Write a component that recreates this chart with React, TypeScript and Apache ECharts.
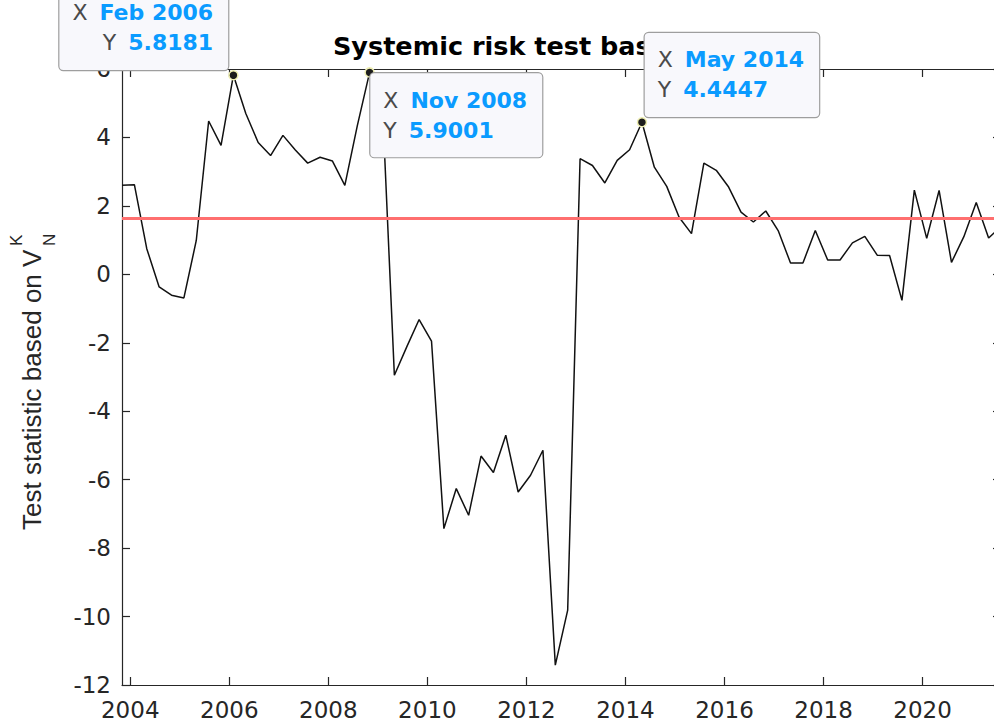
import React, { useEffect, useRef } from "react";
import * as echarts from "echarts";

// Quarterly observation dates (YYYY-MM)
const dates: string[] = [
  "2003-11",
  "2004-02", "2004-05", "2004-08", "2004-11",
  "2005-02", "2005-05", "2005-08", "2005-11",
  "2006-02", "2006-05", "2006-08", "2006-11",
  "2007-02", "2007-05", "2007-08", "2007-11",
  "2008-02", "2008-05", "2008-08", "2008-11",
  "2009-02", "2009-05", "2009-08", "2009-11",
  "2010-02", "2010-05", "2010-08", "2010-11",
  "2011-02", "2011-05", "2011-08", "2011-11",
  "2012-02", "2012-05", "2012-08", "2012-11",
  "2013-02", "2013-05", "2013-08", "2013-11",
  "2014-02", "2014-05", "2014-08", "2014-11",
  "2015-02", "2015-05", "2015-08", "2015-11",
  "2016-02", "2016-05", "2016-08", "2016-11",
  "2017-02", "2017-05", "2017-08", "2017-11",
  "2018-02", "2018-05", "2018-08", "2018-11",
  "2019-02", "2019-05", "2019-08", "2019-11",
  "2020-02", "2020-05", "2020-08", "2020-11",
  "2021-02", "2021-05", "2021-08",
];

// Test statistic values
const values: number[] = [
  2.60, 2.62, 0.75, -0.37, -0.61, -0.69, 0.99, 4.48, 3.77, 5.8181,
  4.70, 3.85, 3.47, 4.06, 3.63, 3.25, 3.42, 3.31, 2.60, 4.33,
  5.9001, 5.25, -2.95, -2.12, -1.32, -1.95, -7.43, -6.26, -7.04, -5.31,
  -5.79, -4.70, -6.36, -5.87, -5.14, -11.42, -9.81, 3.38, 3.18, 2.67,
  3.33, 3.64, 4.4447, 3.13, 2.57, 1.67, 1.19, 3.25, 3.04, 2.55,
  1.82, 1.53, 1.85, 1.28, 0.33, 0.33, 1.28, 0.42, 0.42, 0.92,
  1.11, 0.56, 0.55, -0.76, 2.46, 1.05, 2.45, 0.35, 1.10, 2.10,
  1.06, 1.40,
];

const threshold = 1.645;
const xTickYears: number[] = [2004, 2006, 2008, 2010, 2012, 2014, 2016, 2018, 2020];
const yMin = -12;
const yMax = 6;
const yStep = 2;
const tipDates: string[] = ["2006-02", "2008-11", "2014-05"];
const monthNames: string[] = ["Jan", "Feb", "Mar", "Apr", "May", "Jun", "Jul", "Aug", "Sep", "Oct", "Nov", "Dec"];

const toYear = (d: string) => {
  const [y, m] = d.split("-").map(Number);
  return y + (m - 1) / 12;
};
const toLabel = (d: string) => {
  const [y, m] = d.split("-").map(Number);
  return `${monthNames[m - 1]} ${y}`;
};

const AXIS_COLOR = "#262626";
const TICK_FONT = "DejaVu Sans";

export default function App() {
  const ref = useRef<HTMLDivElement>(null);

  useEffect(() => {
    if (!ref.current) return;
    const chart = echarts.init(ref.current, null, { renderer: "svg" });

    const lineData = dates.map((d, i) => [toYear(d), values[i]]);
    const xMin = toYear(dates[0]);
    const xMax = toYear(dates[dates.length - 1]);

    const tipPlacement: Record<string, any> = {
      "2006-02": { position: [0, 0], align: "right", verticalAlign: "bottom", right: true },
      "2008-11": { position: [6, 6], align: "left", verticalAlign: "top", right: false },
      "2014-05": { position: [8, 0], align: "left", verticalAlign: "bottom", right: false },
    };

    const tipData = tipDates.map((d) => {
      const i = dates.indexOf(d);
      const pl = tipPlacement[d];
      const k = pl.right ? "kr" : "k";
      const v = pl.right ? "vr" : "v";
      return {
        value: [toYear(d), values[i]],
        label: {
          show: true,
          position: pl.position,
          align: pl.align,
          verticalAlign: pl.verticalAlign,
          formatter: `{${k}|X}{${v}|${toLabel(d)}}\n{${k}|Y}{${v}|${values[i].toFixed(4)}}`,
        },
      };
    });

    const richBase = {
      k: { color: "#4a4a4a", fontSize: 22, fontFamily: TICK_FONT, lineHeight: 30, padding: [0, 12, 0, 0] },
      v: { color: "#0a9bff", fontSize: 22, fontFamily: TICK_FONT, fontWeight: "bold", lineHeight: 30 },
      kr: { color: "#4a4a4a", fontSize: 22, fontFamily: TICK_FONT, lineHeight: 30, padding: [0, 12, 0, 0], align: "right" },
      vr: { color: "#0a9bff", fontSize: 22, fontFamily: TICK_FONT, fontWeight: "bold", lineHeight: 30, align: "right" },
    };

    const xAxisCommon = {
      type: "value",
      min: xMin,
      max: xMax,
      splitLine: { show: false },
      axisLine: { show: true, onZero: false, lineStyle: { color: AXIS_COLOR, width: 1.2 } },
      axisTick: {
        show: true,
        inside: true,
        length: 8,
        customValues: xTickYears,
        lineStyle: { color: AXIS_COLOR, width: 1.2 },
      },
    };

    const yAxisCommon = {
      type: "value",
      min: yMin,
      max: yMax,
      interval: yStep,
      splitLine: { show: false },
      axisLine: { show: true, onZero: false, lineStyle: { color: AXIS_COLOR, width: 1.2 } },
      axisTick: { show: true, inside: true, length: 8, lineStyle: { color: AXIS_COLOR, width: 1.2 } },
    };

    const option: any = {
      animation: false,
      backgroundColor: "#ffffff",
      title: {
        text: "Systemic risk test based on V{s|N}{s|K}",
        left: 333,
        top: 33,
        padding: 0,
        z: 1,
        textStyle: {
          fontFamily: TICK_FONT,
          fontWeight: "bold",
          fontSize: 25.5,
          color: "#000000",
          rich: { s: { fontSize: 17, fontFamily: TICK_FONT, fontWeight: "bold", color: "#000000" } },
        },
      },
      grid: { left: 122, right: 0, top: 69, bottom: 42, containLabel: false },
      xAxis: [
        {
          ...xAxisCommon,
          position: "bottom",
          axisLabel: {
            show: true,
            customValues: xTickYears,
            color: AXIS_COLOR,
            fontSize: 23,
            fontFamily: TICK_FONT,
            margin: 13,
            formatter: (v: number) => String(Math.round(v)),
          },
        },
        {
          ...xAxisCommon,
          position: "top",
          axisLabel: { show: false },
        },
      ],
      yAxis: [
        {
          ...yAxisCommon,
          position: "left",
          axisLabel: { show: true, color: AXIS_COLOR, fontSize: 23, fontFamily: TICK_FONT, margin: 11 },
        },
        {
          ...yAxisCommon,
          position: "right",
          axisLabel: { show: false },
        },
      ],
      graphic: [
        {
          type: "group",
          x: 32,
          y: 530,
          rotation: Math.PI / 2,
          z: 1,
          children: [
            {
              type: "text",
              x: 0,
              y: 0,
              style: {
                text: "Test statistic based on V",
                fontFamily: "Liberation Sans",
                fontSize: 26,
                fill: AXIS_COLOR,
                align: "left",
                verticalAlign: "middle",
              },
            },
            {
              type: "text",
              x: 284,
              y: -16,
              style: { text: "K", fontFamily: "Liberation Sans", fontSize: 17, fill: AXIS_COLOR, align: "left", verticalAlign: "middle" },
            },
            {
              type: "text",
              x: 284,
              y: 17,
              style: { text: "N", fontFamily: "Liberation Sans", fontSize: 17, fill: AXIS_COLOR, align: "left", verticalAlign: "middle" },
            },
          ],
        },
      ],
      series: [
        {
          type: "line",
          xAxisIndex: 0,
          yAxisIndex: 0,
          data: lineData,
          showSymbol: false,
          symbol: "none",
          silent: true,
          z: 3,
          lineStyle: { color: "#111111", width: 1.5 },
          markLine: {
            silent: true,
            symbol: ["none", "none"],
            label: { show: false },
            lineStyle: { color: "#ff6f6f", width: 3, type: "solid" },
            data: [{ yAxis: threshold }],
          },
        },
        {
          type: "scatter",
          xAxisIndex: 0,
          yAxisIndex: 0,
          data: tipData,
          symbol: "circle",
          symbolSize: 9,
          silent: true,
          clip: false,
          z: 10,
          itemStyle: { color: "#1c1c1c", borderColor: "#eeeeb0", borderWidth: 1.5, opacity: 1 },
          label: {
            show: true,
            opacity: 1,
            backgroundColor: "#f8f8fc",
            borderColor: "#9e9e9e",
            borderWidth: 1.2,
            borderRadius: 4,
            padding: [12, 15, 12, 13],
            rich: richBase,
          },
        },
      ],
    };

    chart.setOption(option);
    return () => chart.dispose();
  }, []);

  return (
    <div
      ref={ref}
      style={{ position: "fixed", left: 0, top: 0, width: 1001, height: 727, background: "#ffffff" }}
    />
  );
}
